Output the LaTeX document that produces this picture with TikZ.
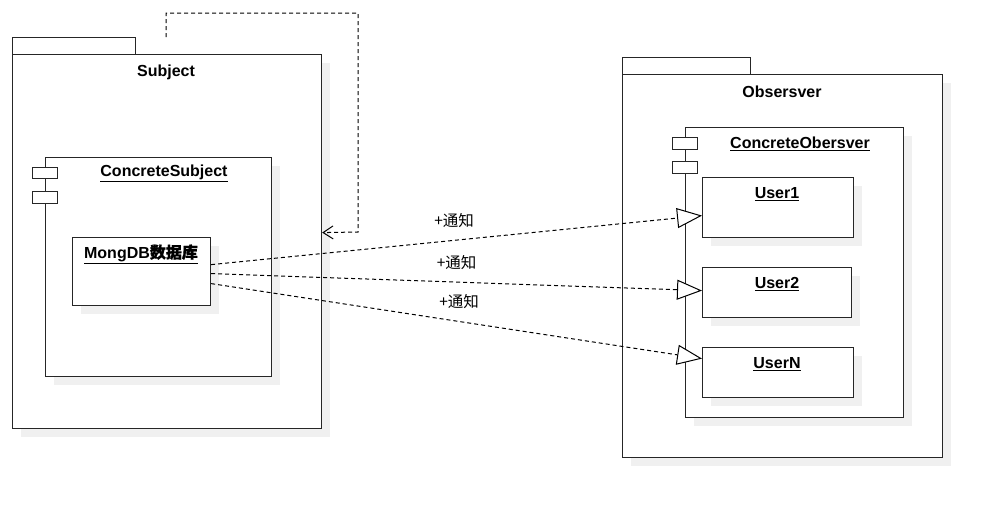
\documentclass[tikz,border=0pt]{standalone}
\usepackage{fontspec}
\setmainfont{Liberation Sans}
\newfontfamily\cjk{Noto Sans CJK SC}
\newfontfamily\cjkb[FakeBold=0.6]{Noto Sans CJK SC}
\usetikzlibrary{arrows.meta,shadows}
\tikzset{
  box/.style={draw=black!85, line width=1.2pt, fill=white, rectangle, inner sep=0pt, anchor=north west,
    drop shadow={shadow xshift=8pt, shadow yshift=-8pt, fill=black!6, opacity=1}},
  flat/.style={draw=black!85, line width=1.2pt, fill=white, rectangle, inner sep=0pt, anchor=north west},
  lbl/.style={font=\fontsize{16}{19}\selectfont\bfseries, inner sep=0pt},
  note/.style={font=\cjk\fontsize{15.5}{18}\selectfont, inner sep=0pt},
  notify/.style={draw=black, line width=1pt, dash pattern=on 4pt off 3pt,
    -{Triangle[fill=white, length=25pt, width=20pt, line width=1pt]}},
  dep/.style={draw=black, line width=1pt, dash pattern=on 4pt off 3pt,
    -{Straight Barb[length=10pt, width=13pt, line width=1pt]}}
}
\begin{document}
\begin{tikzpicture}[x=1pt, y=-1pt]
\fill[white] (0,0) rectangle (992,507);
\useasboundingbox (0,0) rectangle (992,507);

% Subject package
\node[flat, minimum width=123pt, minimum height=17pt] (subjtab) at (12,37) {};
\node[box, minimum width=309pt, minimum height=374pt] (subject) at (12,54) {};
\node[lbl] (subjtitle) at (166,72) {Subject};

\node[box, minimum width=226pt, minimum height=219pt] (csubj) at (45,157) {};
\node[flat, minimum width=25pt, minimum height=11pt] (csicon1) at (32,167) {};
\node[flat, minimum width=25pt, minimum height=12pt] (csicon2) at (32,191) {};
\node[lbl] (csubjtitle) at (164,173) {\underline{ConcreteSubject}};

\node[box, minimum width=138pt, minimum height=68pt] (mongo) at (72,237) {};
\node[lbl] (mongotitle) at (141,254) {\underline{MongDB{\cjkb 数据库}}};

% Observer package
\node[flat, minimum width=128pt, minimum height=17pt] (obstab) at (622,57) {};
\node[box, minimum width=320pt, minimum height=383pt] (obs) at (622,74) {};
\node[lbl] (obstitle) at (782,92) {Obsersver};

\node[box, minimum width=218pt, minimum height=290pt] (cobs) at (685,127) {};
\node[flat, minimum width=25pt, minimum height=12pt] (coicon1) at (672,137) {};
\node[flat, minimum width=25pt, minimum height=12pt] (coicon2) at (672,161) {};
\node[lbl] (cobstitle) at (800,144) {\underline{ConcreteObersver}};

\node[box, minimum width=151pt, minimum height=60pt] (user1) at (702,177) {};
\node[lbl] (user1title) at (777,194) {\underline{User1}};
\node[box, minimum width=149pt, minimum height=50pt] (user2) at (702,267) {};
\node[lbl] (user2title) at (777,284) {\underline{User2}};
\node[box, minimum width=151pt, minimum height=50pt] (usern) at (702,347) {};
\node[lbl] (userntitle) at (777,364) {\underline{UserN}};

% notify connectors
\draw[notify] ([yshift=7pt]mongo.east) -- ([yshift=-8pt]user1.west)
  node[note, pos=0.495, yshift=20pt] (n1) {+通知};
\draw[notify] ([yshift=-2pt]mongo.east) -- ([yshift=2pt]user2.west)
  node[note, pos=0.5, yshift=20pt] (n2) {+通知};
\draw[notify] ([yshift=-12pt]mongo.east) -- ([yshift=14pt]usern.west)
  node[note, pos=0.505, yshift=20pt] (n3) {+通知};

% self dependency
\coordinate (subjtop) at (166,37);
\coordinate (l1) at (166,13);
\coordinate (l2) at (358,13);
\coordinate (l3) at (358,232);
\draw[dep] (subjtop) -- (l1) -- (l2) -- (l3) -- ([yshift=9pt]subject.east);
\end{tikzpicture}
\end{document}
